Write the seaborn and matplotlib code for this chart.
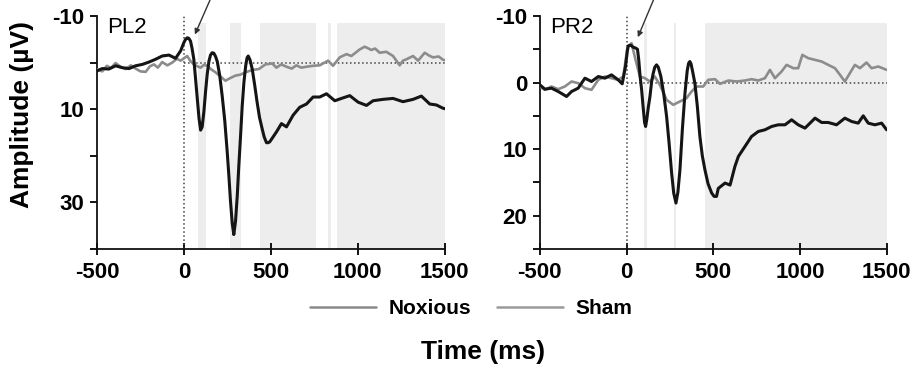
import matplotlib
matplotlib.use("Agg")
import matplotlib.pyplot as plt
import seaborn as sns
import pandas as pd
from matplotlib.lines import Line2D

# values (µV, negative up)
pl2_nox_t = [-500, -470, -432, -393, -355, -316, -278, -239, -201, -163, -125, -86, -48, -19, 0, 10, 19,
             28, 38, 47, 57, 67, 77, 87, 96, 105, 115, 125, 134, 144, 153, 162, 172, 182, 192, 206, 220,
             235, 249, 259, 268, 278, 287, 297, 307, 316, 326, 335, 345, 355, 363, 370, 380, 393, 407,
             421, 435, 450, 462, 475, 485, 494, 532, 561, 590, 628, 666, 705, 743, 781, 820, 868, 906,
             954, 1002, 1050, 1088, 1145, 1203, 1260, 1318, 1366, 1414, 1452, 1490, 1500]
pl2_nox_v = [1.8, 1.3, 1.4, 0.7, 1.1, 1.3, 0.7, 0.4, -0.1, -0.7, -1.4, -1.6, -0.9, -2.5, -4.3, -5.0, -5.3,
             -5.2, -4.6, -3.0, -0.7, 3.5, 7.8, 12.0, 14.5, 13.8, 10.5, 6.0, 2.5, -0.3, -1.6, -2.1, -2.0,
             -1.3, -0.2, 2.8, 7.1, 12.5, 19.1, 24.5, 29.8, 34.5, 36.9, 34.0, 28.5, 22.0, 15.6, 9.5, 4.3,
             0.8, -1.0, -1.4, -0.6, 1.4, 4.8, 8.5, 11.8, 14.2, 16.0, 17.2, 17.2, 17.0, 14.9, 13.1, 13.8,
             11.3, 9.6, 8.9, 7.4, 7.4, 6.7, 8.2, 7.7, 7.1, 8.5, 9.2, 8.2, 7.9, 7.7, 8.4, 7.9, 7.2, 8.9,
             9.1, 9.8, 9.9]

pl2_sham_t = [-500, -470, -443, -420, -393, -365, -335, -305, -278, -250, -220, -195, -172, -150, -125,
              -95, -67, -40, -19, 0, 19, 38, 57, 77, 96, 115, 134, 158, 182, 210, 239, 268, 297, 325,
              354, 393, 431, 469, 508, 532, 560, 590, 620, 647, 675, 705, 743, 781, 829, 858, 896, 935,
              963, 1011, 1040, 1078, 1100, 1126, 1164, 1203, 1241, 1260, 1280, 1318, 1347, 1385, 1410,
              1433, 1465, 1490, 1500]
pl2_sham_v = [1.4, 1.9, 0.7, 1.2, 0.1, 0.9, 1.4, 0.6, 1.3, 1.9, 2.0, 0.8, 0.4, 1.1, -0.1, 0.6, 0.0, -0.8,
              -0.4, -0.9, -1.4, -0.3, 0.4, 0.8, 1.1, 0.5, 0.7, 1.5, 2.1, 3.0, 3.9, 3.3, 2.8, 2.6, 2.1, 1.6,
              1.4, 0.4, 0.2, 1.1, 0.4, 0.9, 1.3, 0.6, 1.1, 0.9, 0.7, 0.6, -0.4, 0.7, -1.1, -1.8, -1.4,
              -2.8, -3.4, -2.7, -3.0, -2.1, -2.3, -1.4, 0.6, -0.4, -0.7, -1.4, -0.4, -2.1, -1.5, -1.1,
              -1.3, -0.6, -0.5]

pr2_nox_t = [-500, -471, -433, -394, -346, -317, -279, -240, -202, -163, -125, -87, -48, -25, -6, 5, 10,
             25, 38, 50, 63, 70, 78, 87, 96, 104, 110, 117, 125, 135, 145, 154, 163, 173, 183, 198, 215,
             231, 245, 260, 272, 285, 296, 308, 322, 337, 350, 358, 365, 372, 383, 394, 408, 423, 437,
             452, 470, 491, 505, 519, 529, 568, 597, 625, 645, 683, 721, 760, 798, 837, 875, 914, 952,
             990, 1029, 1058, 1087, 1125, 1163, 1211, 1259, 1298, 1336, 1365, 1394, 1432, 1471, 1500]
pr2_nox_v = [0.35, 1.0, 0.85, 1.35, 2.1, 1.35, 0.85, -0.65, -0.15, -0.9, -0.65, -1.15, -0.4, 0.2, -2.4,
             -4.8, -5.5, -5.6, -5.3, -5.2, -5.0, -3.5, -1.0, 1.1, 3.8, 6.0, 6.6, 5.5, 3.8, 2.1, -0.2,
             -1.4, -2.3, -2.65, -2.3, -0.9, 1.8, 5.1, 9.0, 13.6, 16.6, 18.1, 16.5, 13.1, 7.0, 1.6, -1.8,
             -2.9, -3.15, -2.8, -1.4, 0.1, 3.5, 8.1, 11.0, 13.1, 15.2, 16.6, 17.1, 17.1, 15.9, 15.1,
             15.4, 12.6, 11.1, 9.6, 8.1, 7.35, 7.1, 6.6, 6.35, 6.35, 5.6, 6.35, 6.85, 6.1, 5.35, 6.0,
             6.0, 6.35, 5.35, 5.85, 6.1, 5.0, 6.1, 6.35, 6.1, 7.1]

pr2_sham_t = [-500, -471, -433, -394, -356, -317, -279, -240, -202, -163, -125, -87, -48, -19, 6, 29, 52,
              77, 106, 135, 163, 192, 231, 269, 308, 346, 375, 404, 442, 471, 510, 539, 587, 635, 683,
              721, 760, 798, 827, 856, 894, 923, 962, 990, 1014, 1048, 1087, 1125, 1163, 1202, 1231,
              1259, 1288, 1317, 1346, 1384, 1413, 1452, 1500]
pr2_sham_v = [0.6, 1.1, 0.6, 1.0, 0.6, -0.15, 0.1, 0.85, 1.1, -0.4, -0.9, -0.65, -0.4, -0.9, -5.4, -5.9,
              -3.4, -0.9, -0.65, -0.15, -0.9, 0.35, 2.6, 3.35, 2.85, 2.35, 1.35, 0.6, 0.6, -0.4, -0.5,
              0.2, -0.3, -0.15, -0.3, -0.5, -0.3, -0.65, -1.9, -0.65, -1.65, -2.65, -2.15, -2.15, -4.15,
              -3.65, -3.4, -3.15, -2.65, -2.15, -1.15, -0.15, -1.4, -2.65, -2.15, -3.0, -2.15, -2.4, -1.9]

pl2_spans = [(80, 125), (265, 330), (440, 760), (830, 845), (880, 1500)]
pr2_spans = [(102, 118), (272, 288), (450, 1500)]

sns.set_style("ticks")
plt.rcParams["font.family"] = ["Liberation Sans", "DejaVu Sans"]
plt.rcParams["axes.unicode_minus"] = False
plt.rcParams["text.color"] = "black"

BLACK = "#151515"
GREY = "#8c8c8c"


def make_df(nt, nv, st, sv):
    a = pd.DataFrame({"t": nt, "v": nv, "cond": "Noxious"})
    b = pd.DataFrame({"t": st, "v": sv, "cond": "Sham"})
    return a, b


def draw_panel(ax, nt, nv, st, sv, spans, ylim, yticks, ylabels, name, arrow_from, arrow_to):
    for s0, s1 in spans:
        ax.axvspan(s0, s1, ymin=0, ymax=0.97, color="#ededed", lw=0, zorder=0)
    ax.axvline(0, color="#444444", ls=":", lw=1.1, zorder=1)
    ax.hlines(0, 0, 1500, color="#444444", ls=":", lw=1.1, zorder=1)

    nox, sham = make_df(nt, nv, st, sv)
    sns.lineplot(data=sham, x="t", y="v", color=GREY, lw=1.9, ax=ax, zorder=3)
    sns.lineplot(data=nox, x="t", y="v", color=BLACK, lw=2.2, ax=ax, zorder=4)

    ax.set_xlim(-500, 1500)
    ax.set_ylim(ylim[1], ylim[0])
    ax.set_xticks([-500, 0, 500, 1000, 1500])
    ax.set_yticks(yticks)
    ax.set_yticklabels(ylabels)
    ax.set_xlabel("")
    ax.set_ylabel("")
    for lab in ax.get_xticklabels() + ax.get_yticklabels():
        lab.set_fontweight("bold")
        lab.set_fontsize(16)
    ax.tick_params(axis="x", direction="inout", length=8, width=1.3, pad=5, colors="black")
    ax.tick_params(axis="y", direction="out", length=5, width=1.3, pad=4, colors="black")
    sns.despine(ax=ax)
    for sp in ("left", "bottom"):
        ax.spines[sp].set_linewidth(1.3)
        ax.spines[sp].set_color("#111111")
    ax.text(0.03, 0.95, name, transform=ax.transAxes, fontsize=16, va="center", ha="left")
    ax.annotate("", xy=arrow_to, xytext=arrow_from, annotation_clip=False,
                arrowprops=dict(arrowstyle="-|>", color="#333333", lw=1, mutation_scale=8,
                                shrinkA=0, shrinkB=0))


fig = plt.figure(figsize=(9.15, 3.7), dpi=100)
ax1 = fig.add_axes([0.106, 0.327, 0.380, 0.630])
ax2 = fig.add_axes([0.590, 0.327, 0.379, 0.630])

draw_panel(ax1, pl2_nox_t, pl2_nox_v, pl2_sham_t, pl2_sham_v, pl2_spans, (-10, 40),
           [-10, 0, 10, 20, 30, 40], ["-10", "", "10", "", "30", ""], "PL2", (150, -13.4), (63, -6.0))
draw_panel(ax2, pr2_nox_t, pr2_nox_v, pr2_sham_t, pr2_sham_v, pr2_spans, (-10, 25),
           [-10, -5, 0, 5, 10, 15, 20, 25], ["-10", "", "0", "", "10", "", "20", ""], "PR2",
           (157, -12.5), (65, -6.8))

fig.text(0.024, 0.69, "Amplitude (µV)", rotation=90, ha="center", va="center",
         fontsize=19, fontweight="bold")
fig.text(0.528, 0.049, "Time (ms)", ha="center", va="center", fontsize=19, fontweight="bold")

handles = [Line2D([], [], color="#8a8a8a", lw=1.8), Line2D([], [], color="#9a9a9a", lw=1.8)]
fig.legend(handles, ["Noxious", "Sham"], loc="center", bbox_to_anchor=(0.515, 0.165), ncol=2,
           frameon=False, handlelength=3.2, columnspacing=1.2, handletextpad=0.6,
           prop={"size": 15, "weight": "bold"})

plt.savefig("out.png", dpi=100)
